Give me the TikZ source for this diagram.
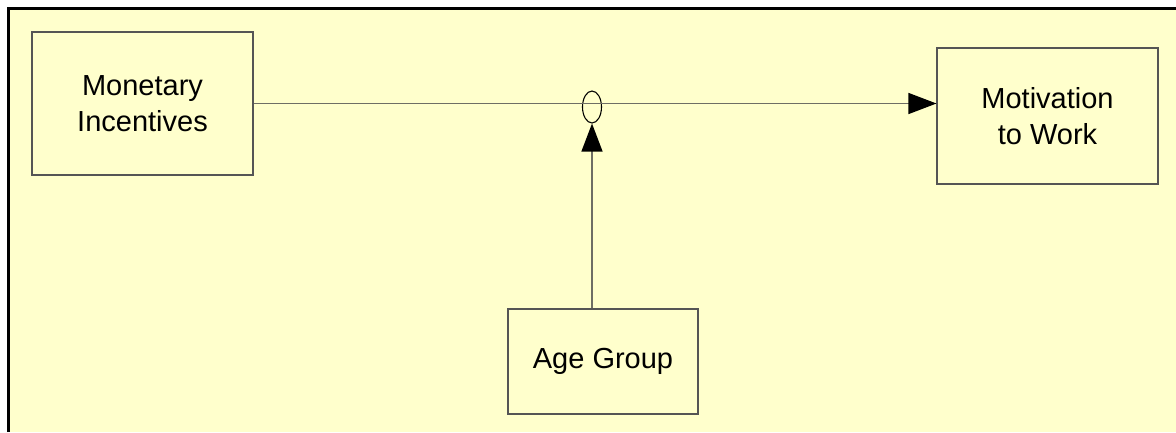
\documentclass[tikz,border=0pt]{standalone}
\usepackage{fontspec}
\setmainfont{Liberation Sans}
\usetikzlibrary{arrows.meta,shapes.geometric}
\definecolor{paper}{HTML}{FFFFCC}
\definecolor{edge}{HTML}{555555}
\definecolor{wire}{HTML}{6E6E64}
\tikzset{
  box/.style={draw=edge, line width=1.1pt, align=center,
    font=\fontsize{29}{36}\selectfont, inner sep=0pt},
  wirestyle/.style={draw=wire, line width=1.3pt},
  head/.style={-{Triangle[length=28pt,width=21pt,black]}}
}
\begin{document}
\begin{tikzpicture}[x=1pt,y=-1pt]
  % canvas and the frame along the top and left edges
  \useasboundingbox (0,0) rectangle (1176,432);
  \fill[white] (0,0) rectangle (1176,432);
  \fill[paper] (7,7) rectangle (1176,432);
  \draw[black, line width=3pt] (8.5,432) -- (8.5,8.5) -- (1176,8.5);

  % variables
  \node[box, minimum width=221pt, minimum height=143pt] (mon) at (142.5,103.5) {Monetary\\Incentives};
  \node[box, minimum width=221pt, minimum height=136pt] (mot) at (1047.5,116) {Motivation\\to Work};
  \node[box, minimum width=190pt, minimum height=105pt] (age) at (603,361.5) {Age Group};

  % moderation point on the main path
  \node[ellipse, draw=black, line width=1.1pt, minimum width=19pt, minimum height=32pt, inner sep=0pt] (mod) at (592,107) {};

  % main effect and moderating effect
  \draw[wirestyle, head] (mon.east) -- (mon.east -| mot.west);
  \draw[wirestyle, head] (mod.south |- age.north) -- (mod.south);
\end{tikzpicture}
\end{document}
